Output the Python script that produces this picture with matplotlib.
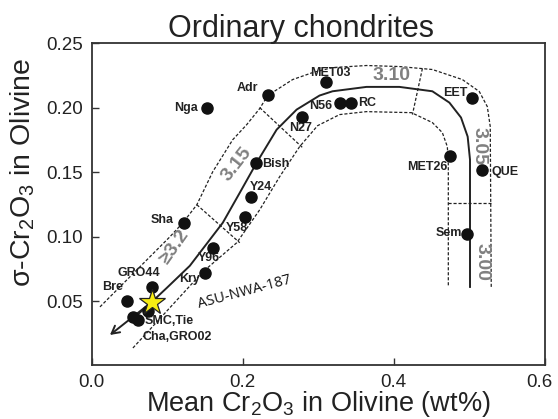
import matplotlib
matplotlib.use("Agg")
import matplotlib.pyplot as plt
from matplotlib.transforms import ScaledTranslation

plt.rcParams["font.family"] = ["Liberation Sans", "DejaVu Sans"]
plt.rcParams["mathtext.fontset"] = "custom"
plt.rcParams["mathtext.rm"] = "Liberation Sans"
plt.rcParams["mathtext.it"] = "Liberation Sans:italic"

# meteorites: mean Cr2O3 vs sigma Cr2O3 in olivine
mean_cr = [0.153, 0.233, 0.310, 0.329, 0.344, 0.279, 0.218, 0.211, 0.203, 0.161,
           0.150, 0.122, 0.080, 0.047, 0.055, 0.061, 0.075, 0.504, 0.475, 0.517, 0.497]
sigma_cr = [0.200, 0.210, 0.220, 0.204, 0.204, 0.193, 0.1575, 0.131, 0.115, 0.091,
            0.072, 0.111, 0.061, 0.050, 0.038, 0.035, 0.042, 0.208, 0.163, 0.152, 0.102]
names = ["Nga", "Adr", "MET03", "N56", "RC", "N27", "Bish", "Y24", "Y58", "Y96",
         "Kry", "Sha", "GRO44", "Bre", "SMC,Tie", "Cha,GRO02", "", "EET", "MET26", "QUE", "Sem"]

# new sample
star_x = [0.080]
star_y = [0.049]
star_name = "ASU-NWA-187"

# petrologic-type trend (solid) and its bounds (dashed)
trend_x = [0.0244, 0.0548, 0.0799, 0.0997, 0.1301, 0.1737, 0.1962, 0.2186, 0.2450, 0.2715,
           0.3018, 0.3190, 0.3639, 0.4075, 0.4511, 0.4736, 0.4890, 0.4978, 0.5009, 0.5009]
trend_y = [0.0237, 0.0362, 0.0494, 0.0603, 0.0774, 0.1108, 0.1341, 0.1575, 0.1831, 0.1987,
           0.2096, 0.2129, 0.2163, 0.2163, 0.2129, 0.2041, 0.1925, 0.1777, 0.1598, 0.0610]
upper_x = [0.0112, 0.0601, 0.1037, 0.1209, 0.1394, 0.1605, 0.1869, 0.2054, 0.2226, 0.2332,
           0.2662, 0.2926, 0.3190, 0.3639, 0.4075, 0.4511, 0.4908, 0.5132, 0.5238, 0.5277, 0.5290]
upper_y = [0.0455, 0.0743, 0.0999, 0.1108, 0.1248, 0.1505, 0.1753, 0.1870, 0.1995, 0.2096,
           0.2220, 0.2274, 0.2313, 0.2329, 0.2321, 0.2298, 0.2220, 0.2127, 0.2010, 0.1855, 0.0610]
lower_x = [0.0548, 0.1169, 0.1473, 0.1922, 0.2226, 0.2490, 0.2754, 0.2992, 0.3283, 0.3639,
           0.4234, 0.4511, 0.4643, 0.4709, 0.4722, 0.4722]
lower_y = [0.0136, 0.0533, 0.0727, 0.0953, 0.1209, 0.1466, 0.1699, 0.1862, 0.1948, 0.1971,
           0.1963, 0.1886, 0.1808, 0.1699, 0.1559, 0.0610]

# subtype boundaries
div_x = [[0.1394, 0.1962], [0.2226, 0.2794], [0.4379, 0.4247], [0.4722, 0.5290]]
div_y = [[0.1248, 0.0953], [0.2002, 0.1691], [0.2306, 0.1948], [0.1261, 0.1261]]
zone_names = ["\u22653.2", "3.15", "3.10", "3.05", "3.00"]
zone_x = [0.1103, 0.1918, 0.3966, 0.5132, 0.5163]
zone_y = [0.0924, 0.1559, 0.2254, 0.1701, 0.0807]
zone_rot = [55, 52, 0, -90, -90]

# label offsets (points) and alignment
offsets = [(-7, 0), (-7, 5), (3, 6.5), (-5.5, -2), (5, 0), (-1.5, -8), (4.5, -0.7), (7, 7),
           (-6, -8), (-3, -7), (-3.5, -4.3), (-7.5, 2), (-9.5, 10), (-10.5, 10), (8.6, -3.4),
           (3.8, -12), (0, 0), (-3.5, 3.5), (-2, -8.5), (7, -2), (-3.5, 0.7)]
aligns = ["right", "right", "center", "right", "left", "center", "left", "center",
          "center", "center", "right", "right", "center", "center", "left",
          "left", "left", "right", "right", "left", "right"]

fig = plt.figure(figsize=(5.58, 4.19), dpi=100)
ax = fig.add_axes([0.164, 0.1277, 0.8125, 0.7685])

dash = (0, (2.5, 1.5))
ax.plot(upper_x, upper_y, color="#222222", lw=0.9, ls=dash)
ax.plot(lower_x, lower_y, color="#222222", lw=0.9, ls=dash)
for dx, dy in zip(div_x, div_y):
    ax.plot(dx, dy, color="#222222", lw=0.9, ls=dash)
ax.plot(trend_x[1:], trend_y[1:], color="#222222", lw=1.4)
ax.annotate("", xy=(trend_x[0], trend_y[0]), xytext=(trend_x[2], trend_y[2]),
            arrowprops=dict(arrowstyle="->,head_length=0.55,head_width=0.3",
                            color="#222222", lw=1.4, shrinkA=0, shrinkB=0))

for t, x, y, r in zip(zone_names, zone_x, zone_y, zone_rot):
    ax.text(x, y, t, fontsize=14, color="#808080", rotation=r, fontweight="bold",
            ha="center", va="center", rotation_mode="anchor")

ax.plot(mean_cr, sigma_cr, "o", color="#111111", ms=8, zorder=4)
for name, x, y, off, ha in zip(names, mean_cr, sigma_cr, offsets, aligns):
    if name:
        ax.annotate(name, (x, y), xytext=off, textcoords="offset points",
                    ha=ha, va="center", fontsize=9, fontweight="bold", color="#222222")

ax.plot(star_x, star_y, "*", color="#f7ec13", mec="#222222", mew=0.9, ms=19, zorder=5)
ax.text(0.2028, 0.0572, star_name, fontsize=10.5, family=["Open Sans", "DejaVu Sans"],
        color="#111111", rotation=15, ha="center", va="center", rotation_mode="anchor")

ax.set_xlim(0, 0.6)
ax.set_ylim(0, 0.25)
ax.set_xticks([0.0, 0.2, 0.4, 0.6])
ax.set_yticks([0.05, 0.10, 0.15, 0.20, 0.25])
ax.set_xticklabels(["0.0", "0.2", "0.4", "0.6"])
ax.set_yticklabels(["0.05", "0.10", "0.15", "0.20", "0.25"])
ax.tick_params(direction="in", length=5, width=1, color="#333333",
               labelsize=13.5, labelcolor="#222222", pad=6)
last = ax.get_xticklabels()[-1]
last.set_transform(last.get_transform() + ScaledTranslation(-6 / 100, 0, fig.dpi_scale_trans))
for s in ax.spines.values():
    s.set_color("#333333")
    s.set_linewidth(1.3)

ax.set_xlabel(r"Mean Cr$_2$O$_3$ in Olivine (wt%)", fontsize=19.5, color="#222222", labelpad=-1)
ax.set_ylabel("\u03c3-Cr$_2$O$_3$ in Olivine", fontsize=20.5, color="#222222")
ax.yaxis.set_label_coords(-0.12, 0.60)
fig.text(301 / 558, 0.912, "Ordinary chondrites", fontsize=22, color="#222222",
         ha="center", va="baseline")

fig.savefig("out.png", dpi=100)
